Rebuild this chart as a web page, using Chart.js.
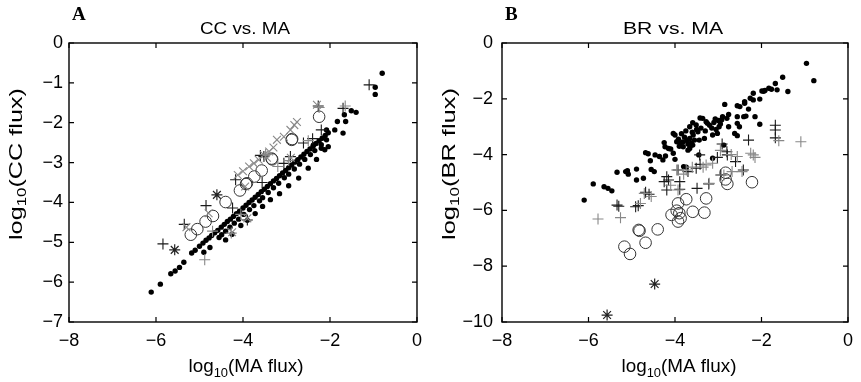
<!DOCTYPE html>
<html><head><meta charset="utf-8">
<script src="https://cdn.jsdelivr.net/npm/chart.js@4.4.1/dist/chart.umd.min.js"></script>
<style>
html,body{margin:0;padding:0;background:#fff;}
#wrap{position:relative;width:861px;height:382px;overflow:hidden;background:#fff;}
canvas{position:absolute;top:0;}
#cA{left:0;} #cB{left:430px;}
</style></head><body>
<div id="wrap"><canvas id="cA" width="430" height="382"></canvas><canvas id="cB" width="431" height="382"></canvas></div>
<script>
// ---------- tick labels ----------
const xTicks = [-8, -6, -4, -2, 0];
const ccYTicks = [0, -1, -2, -3, -4, -5, -6, -7];
const brYTicks = [0, -2, -4, -6, -8, -10];

// ---------- Panel A: CC vs. MA  [log10 MA flux, log10 CC flux] ----------
const ccDots = [
 [-6.11,-6.25],[-5.90,-6.05],[-5.66,-5.79],[-5.56,-5.72],[-5.46,-5.63],[-5.36,-5.50],
 [-5.18,-5.27],[-5.10,-5.20],[-5.00,-5.10],[-4.92,-5.02],[-4.85,-4.95],[-4.78,-4.89],
 [-4.72,-4.83],[-4.65,-4.76],[-4.58,-4.70],[-4.50,-4.62],[-4.43,-4.55],[-4.36,-4.48],
 [-4.29,-4.42],[-4.22,-4.35],[-4.15,-4.28],[-4.08,-4.22],[-4.00,-4.14],[-3.93,-4.07],
 [-3.86,-4.00],[-3.79,-3.94],[-3.72,-3.87],[-3.65,-3.80],[-3.58,-3.73],[-3.51,-3.67],
 [-3.44,-3.60],[-3.37,-3.53],[-3.30,-3.46],[-3.23,-3.40],[-3.16,-3.33],[-3.09,-3.26],
 [-3.02,-3.20],[-2.95,-3.13],[-2.88,-3.06],[-2.81,-2.99],[-2.74,-2.93],[-2.67,-2.86],
 [-2.60,-2.79],[-2.53,-2.72],[-2.46,-2.66],[-2.39,-2.59],[-2.32,-2.52],[-2.25,-2.45],
 [-2.18,-2.39],[-2.11,-2.32],[-2.04,-2.25],
 [-4.90,-5.25],[-4.76,-5.13],[-4.55,-4.88],[-4.49,-4.81],[-4.40,-4.72],[-4.30,-4.62],
 [-4.20,-4.52],[-4.10,-4.42],[-3.98,-4.30],[-3.85,-4.18],[-3.75,-4.08],[-3.62,-3.96],
 [-3.55,-3.88],[-3.42,-3.75],[-3.30,-3.63],[-3.18,-3.52],[-3.05,-3.38],[-2.95,-3.29],
 [-2.82,-3.16],[-2.70,-3.04],[-2.58,-2.92],[-2.45,-2.80],[-2.35,-2.70],[-2.20,-2.55],
 [-4.40,-4.94],[-4.25,-4.80],[-4.05,-4.58],[-3.90,-4.45],[-3.72,-4.28],[-3.55,-4.10],
 [-3.37,-3.93],[-3.16,-3.78],[-2.95,-3.58],[-2.72,-3.39],[-2.50,-3.14],[-2.31,-2.92],
 [-2.12,-2.68],
 [-2.08,-2.18],[-2.08,-2.43],[-2.04,-2.60],[-2.20,-2.64],[-2.38,-2.56],[-1.89,-2.18],
 [-1.83,-1.97],[-1.70,-2.26],[-1.64,-1.97],[-1.67,-1.80],[-1.51,-1.70],[-1.40,-1.74],
 [-0.96,-1.11],[-0.96,-1.29],[-0.80,-0.76]
];
const ccCircles = [
 [-5.20,-4.81],[-5.05,-4.67],[-4.86,-4.48],[-4.69,-4.34],[-4.40,-3.99],[-4.07,-3.70],
 [-3.93,-3.54],[-3.91,-3.52],[-3.74,-3.35],[-3.57,-3.20],[-3.33,-2.92],[-3.34,-2.90],
 [-2.88,-2.43],[-2.87,-2.41],[-2.25,-1.85]
];
const ccPlusBlack = [
 [-5.84,-5.04],[-5.35,-4.55],[-4.85,-4.08],[-4.24,-4.14],[-4.17,-3.43],[-3.90,-4.44],
 [-3.56,-3.50],[-3.52,-2.85],[-3.06,-3.02],[-2.91,-2.85],[-2.61,-2.51],[-2.27,-1.58],
 [-2.20,-2.18],[-1.70,-1.64],[-1.10,-1.05],[-3.60,-2.82],[-2.40,-2.40]
];
const ccPlusGray = [
 [-4.88,-5.44],[-4.27,-4.77],[-4.70,-4.72],[-3.48,-2.80],[-2.25,-1.62],[-1.65,-1.58],
 [-2.95,-2.95],[-2.50,-2.45],[-4.05,-4.30],[-3.20,-3.10]
];
const ccCrossGray = [
 [-5.30,-4.62],[-4.79,-4.27],[-4.12,-3.31],[-4.00,-3.22],[-3.86,-3.10],[-3.75,-3.02],
 [-3.64,-2.93],[-3.52,-2.81],[-3.40,-2.72],[-3.30,-2.62],[-3.22,-2.43],[-3.06,-2.35],
 [-2.91,-2.18],[-2.82,-2.06],[-2.76,-1.98],[-2.30,-1.55],[-3.45,-2.88],[-4.25,-4.75],
 [-3.90,-4.40],[-2.90,-2.88],[-3.95,-3.60]
];
const ccStars = [[-5.57,-5.19],[-4.60,-3.81]];

// ---------- Panel B: BR vs. MA  [log10 MA flux, log10 BR flux] ----------
const brDots = [
 [-6.10,-5.63],[-5.89,-5.05],[-5.64,-5.15],[-5.55,-5.21],[-5.46,-5.30],[-5.34,-4.63],
 [-5.14,-4.61],[-5.08,-4.70],[-5.10,-4.58],[-4.89,-4.52],[-4.89,-4.91],[-4.73,-4.85],
 [-4.68,-3.93],[-4.62,-3.97],[-4.57,-4.22],[-4.46,-4.01],[-4.55,-4.53],[-4.48,-4.61],
 [-4.36,-4.07],[-4.28,-4.19],[-4.22,-4.05],[-4.25,-3.57],[-4.15,-3.78],[-4.10,-3.80],
 [-4.04,-3.95],[-4.00,-4.17],[-4.04,-3.24],[-4.00,-3.30],[-3.96,-3.54],[-3.92,-3.45],
 [-3.88,-3.60],[-3.81,-3.72],[-3.70,-3.84],[-3.80,-4.43],[-3.74,-4.45],[-4.23,-3.72],
 [-3.85,-3.25],[-3.78,-3.38],[-3.72,-3.50],[-3.66,-3.42],[-3.62,-3.58],[-3.58,-3.30],
 [-3.70,-3.62],[-3.82,-3.55],[-3.90,-3.70],[-3.65,-3.70],[-3.55,-3.48],[-3.75,-3.15],
 [-3.60,-3.20],[-3.66,-3.00],[-3.51,-2.94],[-3.47,-3.18],[-3.44,-3.48],[-3.59,-3.66],
 [-3.66,-3.78],[-3.45,-4.01],[-3.36,-2.70],[-3.28,-2.82],[-3.32,-3.42],[-3.25,-2.88],
 [-3.13,-3.30],[-3.02,-3.24],[-3.13,-4.13],[-3.07,-2.72],[-3.00,-2.78],[-2.98,-3.00],
 [-2.90,-2.64],[-2.87,-3.66],[-2.85,-2.20],[-2.76,-2.56],[-2.76,-3.00],[-2.80,-2.70],
 [-2.62,-3.24],[-2.56,-3.32],[-2.56,-2.25],[-2.50,-2.28],[-2.56,-2.64],[-2.51,-3.00],
 [-2.41,-2.64],[-2.39,-2.10],[-2.30,-2.37],[-2.36,-2.62],[-2.26,-1.98],[-2.19,-2.04],
 [-2.15,-2.64],[-2.04,-2.01],[-2.04,-2.91],[-1.99,-1.72],[-1.95,-1.73],[-1.92,-1.70],
 [-1.83,-1.62],[-1.64,-1.68],[-1.68,-1.45],[-1.51,-1.23],[-1.39,-1.74],[-0.96,-0.73],
 [-0.79,-1.35],[-3.59,-2.86],[-3.42,-2.69],[-2.56,-2.88],[-2.39,-2.16],[-2.19,-1.80],
 [-1.77,-1.66],[-3.20,-2.95],[-3.15,-3.05],[-3.10,-2.85],[-3.05,-3.10],[-2.95,-2.90],
 [-2.92,-2.75],[-3.40,-3.05],[-3.50,-3.10],[-3.30,-3.15]
];
const brCircles = [
 [-5.17,-7.30],[-5.04,-7.56],[-4.84,-6.70],[-4.82,-6.73],[-4.68,-7.16],[-4.40,-6.68],
 [-4.08,-6.16],[-3.93,-5.75],[-3.96,-6.01],[-3.90,-6.10],[-3.87,-6.28],[-3.93,-6.40],
 [-3.74,-5.60],[-3.59,-6.05],[-3.32,-6.08],[-3.28,-5.57],[-2.83,-4.65],[-2.83,-4.89],
 [-2.79,-5.05],[-2.22,-4.99]
];
const brPlusBlack = [
 [-5.34,-5.81],[-5.30,-5.85],[-4.91,-5.87],[-4.85,-5.83],[-4.68,-5.35],[-4.60,-5.42],
 [-4.25,-4.97],[-4.19,-4.79],[-4.15,-4.91],[-4.19,-5.27],[-3.89,-5.24],[-3.89,-4.97],
 [-3.70,-4.61],[-3.51,-4.49],[-3.49,-5.21],[-3.42,-4.35],[-3.22,-5.05],[-3.02,-4.10],
 [-2.91,-3.62],[-2.80,-3.90],[-2.94,-4.73],[-2.60,-4.25],[-2.42,-4.55],[-2.30,-3.48],
 [-1.68,-3.12],[-1.68,-2.95],[-1.68,-3.40],[-3.93,-4.55],[-3.43,-4.01],[-2.79,-4.01]
];
const brPlusGray = [
 [-5.78,-6.31],[-5.26,-6.26],[-4.71,-5.39],[-4.80,-5.75],[-4.55,-5.50],[-4.10,-5.10],
 [-3.93,-5.27],[-3.96,-4.55],[-3.74,-4.55],[-3.60,-4.45],[-3.28,-4.37],[-3.21,-5.03],
 [-3.13,-4.31],[-2.87,-4.73],[-2.68,-4.61],[-2.56,-4.07],[-2.45,-4.61],[-2.19,-4.01],
 [-2.15,-4.10],[-2.25,-3.95],[-2.95,-3.85],[-1.60,-3.50],[-1.09,-3.54],[-3.80,-4.70],
 [-3.35,-4.45],[-2.70,-4.00]
];
const brStars = [[-4.47,-8.64],[-5.57,-9.75]];

// ---------- helpers ----------
const toPts = arr => arr.map(p => ({x: p[0], y: p[1]}));
const minus = v => (v < 0 ? '\u2212' + Math.abs(v) : String(v));
const SANS = '"Liberation Sans", Arial, Helvetica, sans-serif';

function drawParts(ctx, parts, cx, cy, targetW, rotate) {
  ctx.save();
  ctx.translate(cx, cy);
  if (rotate) ctx.rotate(-Math.PI / 2);
  let total = 0; const ws = [];
  for (const p of parts) { ctx.font = p.font; const w = ctx.measureText(p.t).width; ws.push(w); total += w; }
  const s = targetW ? targetW / total : 1;
  ctx.scale(s, 1);
  ctx.textBaseline = 'middle'; ctx.textAlign = 'left'; ctx.fillStyle = '#000';
  let x = -total / 2;
  parts.forEach((p, i) => { ctx.font = p.font; ctx.fillText(p.t, x, p.dy || 0); x += ws[i]; });
  ctx.restore();
}

const decoPlugin = {
  id: 'deco',
  afterDraw(chart, args, o) {
    const ctx = chart.ctx, a = chart.chartArea;
    const xs = chart.scales.x, ys = chart.scales.y;
    ctx.save();
    ctx.strokeStyle = '#000'; ctx.lineWidth = 1.4;
    ctx.strokeRect(a.left, a.top, a.right - a.left, a.bottom - a.top);
    ctx.beginPath();
    ctx.lineWidth = 1.2;
    const L = 5;
    xs.ticks.forEach(t => {
      const px = xs.getPixelForValue(t.value);
      ctx.moveTo(px, a.bottom); ctx.lineTo(px, a.bottom - L);
      ctx.moveTo(px, a.top); ctx.lineTo(px, a.top + L);
    });
    ys.ticks.forEach(t => {
      const py = ys.getPixelForValue(t.value);
      ctx.moveTo(a.left, py); ctx.lineTo(a.left + L, py);
      ctx.moveTo(a.right, py); ctx.lineTo(a.right - L, py);
    });
    ctx.stroke();
    // panel letter
    ctx.fillStyle = '#000';
    ctx.font = 'bold 19px "Liberation Serif", "Times New Roman", serif';
    ctx.textBaseline = 'alphabetic'; ctx.textAlign = 'left';
    ctx.fillText(o.letter, a.left + 3, 20);
    ctx.restore();
    // title
    drawParts(ctx, [{t: o.title, font: '16px ' + SANS}], o.titleX, 30, o.titleW, false);
    // x title
    const big = '19px ' + SANS, small = '13px ' + SANS;
    drawParts(ctx, [{t: 'log', font: big}, {t: '10', font: small, dy: 6}, {t: '(MA flux)', font: big}],
      o.xTitleX, 367, 115, false);
    // y title
    const bigY = '18px ' + SANS, smallY = '12px ' + SANS;
    drawParts(ctx, [{t: 'log', font: bigY}, {t: '10', font: smallY, dy: 6}, {t: o.yName, font: bigY}],
      o.yTitleX, 164, 152, true);
  }
};

function makeChart(id, cfg) {
  const ds = (data, style) => Object.assign({data: toPts(data), showLine: false}, style);
  const sDot = {pointStyle: 'circle', pointRadius: 2.7, backgroundColor: '#000', borderColor: '#000', pointBorderWidth: 0};
  const sCirc = {pointStyle: 'circle', pointRadius: 5.8, backgroundColor: 'rgba(0,0,0,0)', borderColor: '#333', pointBorderWidth: 1};
  const sPlusB = {pointStyle: 'cross', pointRadius: 5.5, borderColor: '#1a1a1a', pointBorderWidth: 1.1};
  const sPlusG = {pointStyle: 'cross', pointRadius: 5.5, borderColor: '#888', pointBorderWidth: 1.1};
  const sCrossG = {pointStyle: 'crossRot', pointRadius: 5.5, borderColor: '#888', pointBorderWidth: 1.1};
  const sStar = {pointStyle: 'star', pointRadius: 5.5, borderColor: '#222', pointBorderWidth: 1.2};
  const datasets = [];
  if (cfg.crossG) datasets.push(ds(cfg.crossG, sCrossG));
  datasets.push(ds(cfg.plusG, sPlusG));
  datasets.push(ds(cfg.plusB, sPlusB));
  datasets.push(ds(cfg.circles, sCirc));
  datasets.push(ds(cfg.stars, sStar));
  datasets.push(ds(cfg.dots, sDot));
  return new Chart(document.getElementById(id), {
    type: 'scatter',
    data: {datasets},
    options: {
      responsive: false, animation: false, devicePixelRatio: 1,
      layout: {padding: {left: 0, right: cfg.padRight, top: 43, bottom: 0}},
      plugins: {legend: {display: false}, tooltip: {enabled: false}, deco: cfg.deco},
      scales: {
        x: {
          type: 'linear', min: -8, max: 0,
          afterBuildTicks: s => { s.ticks = xTicks.map(v => ({value: v})); },
          afterFit: s => { s.height = 60; },
          grid: {display: false, drawTicks: false},
          border: {display: false},
          ticks: {padding: 8, color: '#000', font: {family: SANS, size: 18}, callback: v => minus(v), maxRotation: 0}
        },
        y: {
          type: 'linear', min: cfg.yMin, max: 0,
          afterBuildTicks: s => { s.ticks = cfg.yTicks.map(v => ({value: v})); },
          afterFit: s => { s.width = cfg.yWidth; },
          grid: {display: false, drawTicks: false},
          border: {display: false},
          ticks: {padding: cfg.yPad, color: '#000', font: {family: SANS, size: 18}, callback: v => minus(v)}
        }
      }
    },
    plugins: [decoPlugin]
  });
}

makeChart('cA', {
  dots: ccDots, circles: ccCircles, plusB: ccPlusBlack, plusG: ccPlusGray, crossG: ccCrossGray, stars: ccStars,
  yMin: -7, yTicks: ccYTicks, yWidth: 69, yPad: 6, padRight: 8,
  deco: {letter: 'A', title: 'CC vs. MA', titleX: 245, titleW: 90, xTitleX: 246, yTitleX: 17, yName: '(CC flux)'}
});
makeChart('cB', {
  dots: brDots, circles: brCircles, plusB: brPlusBlack, plusG: brPlusGray, crossG: null, stars: brStars,
  yMin: -10, yTicks: brYTicks, yWidth: 72, yPad: 9, padRight: 6,
  deco: {letter: 'B', title: 'BR vs. MA', titleX: 243, titleW: 100, xTitleX: 249, yTitleX: 20, yName: '(BR flux)'}
});
</script>
</body></html>
